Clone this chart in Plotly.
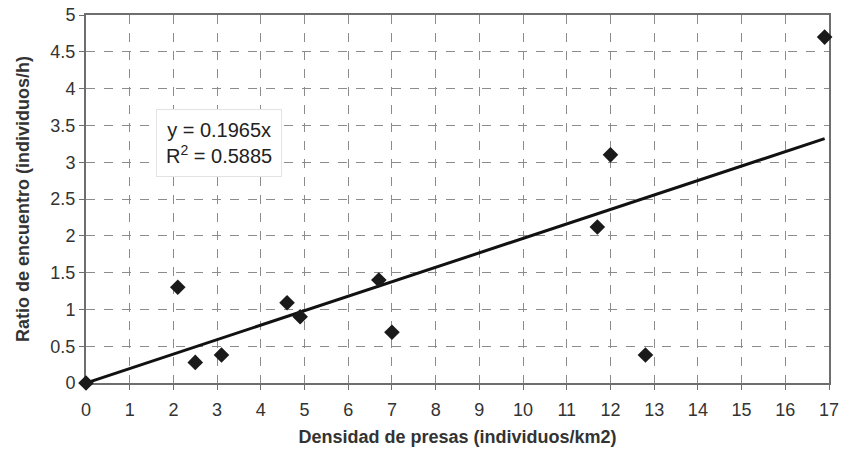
import plotly.graph_objects as go

# Data
densidad = [0, 2.1, 2.5, 3.1, 4.6, 4.9, 6.7, 7.0, 11.7, 12.0, 12.8, 16.9]
ratio = [0, 1.3, 0.28, 0.38, 1.09, 0.9, 1.4, 0.69, 2.12, 3.1, 0.38, 4.7]
slope = 0.1965
r2 = 0.5885
x_ticks = list(range(0, 18))
y_ticks = [0, 0.5, 1, 1.5, 2, 2.5, 3, 3.5, 4, 4.5, 5]

trend_x = [0, max(densidad)]
trend_y = [slope * v for v in trend_x]

font = "Liberation Sans, Arial, sans-serif"

fig = go.Figure()
fig.add_trace(go.Scatter(x=trend_x, y=trend_y, mode="lines",
                         line=dict(color="#111111", width=3), showlegend=False,
                         hoverinfo="skip", cliponaxis=False))
fig.add_trace(go.Scatter(x=densidad, y=ratio, mode="markers",
                         marker=dict(symbol="diamond", size=12, color="#1a1a1a"),
                         showlegend=False, cliponaxis=False))

fig.add_annotation(x=3.04, y=3.26, xref="x", yref="y",
                   text=f"y = {slope}x<br>R<sup>2</sup> = {r2}",
                   showarrow=False, align="center",
                   font=dict(family=font, size=20, color="#222222"),
                   bgcolor="white", bordercolor="#e3e3e3", borderwidth=1,
                   borderpad=9)

axis_common = dict(
    showgrid=True, gridcolor="#8c8c8c", griddash="dash", gridwidth=1,
    showline=True, linecolor="#6e6e6e", linewidth=2, mirror=True,
    ticks="outside", ticklen=5, tickcolor="#6e6e6e",
    tickfont=dict(family=font, size=18, color="#333333"), zeroline=False,
    automargin=False, layer="below traces",
)

fig.update_layout(
    width=846, height=450,
    margin=dict(l=86, r=17, t=15, b=67),
    paper_bgcolor="white", plot_bgcolor="white",
    font=dict(family=font, color="#333333"),
    xaxis=dict(range=[0, 17], tickvals=x_ticks, ticktext=[str(v) for v in x_ticks],
               ticklabelstandoff=4,
               title=dict(text="<b>Densidad de presas (individuos/km2)</b>",
                          font=dict(family=font, size=18, color="#333333"), standoff=12),
               **axis_common),
    yaxis=dict(range=[0, 5], tickvals=y_ticks, ticktext=[f"{v:g}" for v in y_ticks],
               title=dict(text="<b>Ratio de encuentro (individuos/h)</b>",
                          font=dict(family=font, size=18, color="#333333"), standoff=16),
               **axis_common),
)

fig.write_html("out.html", config={"displayModeBar": False},
               post_script="document.body.style.margin='0';")
